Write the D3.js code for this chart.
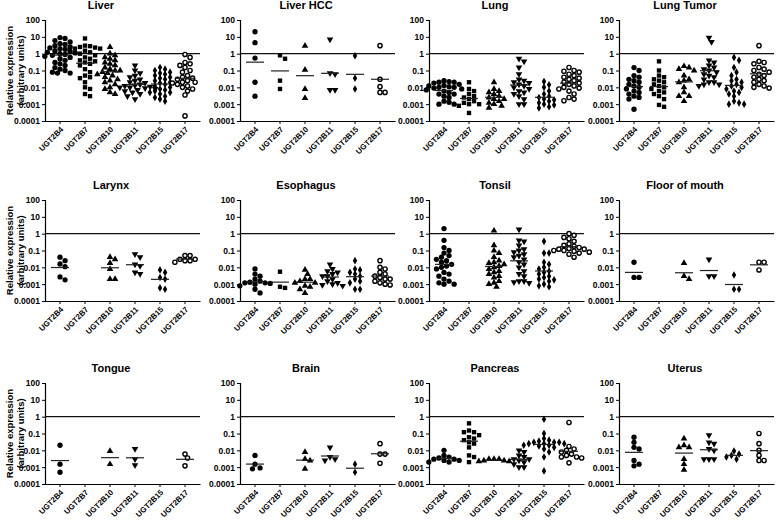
<!DOCTYPE html>
<html><head><meta charset="utf-8">
<script src="https://cdn.jsdelivr.net/npm/d3@7"></script>
<style>
body{margin:0;background:#fff}
text{font-family:"Liberation Sans",Arial,sans-serif;font-weight:bold;fill:#000}
</style>
</head><body><svg id="c" width="777" height="520"></svg>
<script>
const genes = ["UGT2B4","UGT2B7","UGT2B10","UGT2B11","UGT2B15","UGT2B17"];
const tissues = ["Liver","Liver HCC","Lung","Lung Tumor","Larynx","Esophagus","Tonsil","Floor of mouth","Tongue","Brain","Pancreas","Uterus"];
const yTicks = [100,10,1,0.1,0.01,0.001,0.0001];
const yTickLabels = ["100","10","1","0.1","0.01","0.001","0.0001"];
const yAxisTitle = ["Relative expression","(arbitrary units)"];

// values per tissue: one array per gene (UGT2B4, 2B7, 2B10, 2B11, 2B15, 2B17)
const liver = [
  [9,8,6,5,4,3.5,3,2.5,2.2,2,1.8,1.5,1.3,1.2,1.1,1,0.9,0.8,0.7,0.6,0.5,0.4,0.3,0.25,0.2,0.15,0.12,0.1,0.08,0.07,0.07],
  [8,3,2.8,2.5,2.3,2,2,1.8,1.5,1.2,1,0.8,0.6,0.5,0.4,0.35,0.3,0.25,0.2,0.12,0.08,0.05,0.04,0.035,0.02,0.01,0.008,0.004,0.003],
  [2.5,1,0.8,0.6,0.5,0.4,0.3,0.25,0.2,0.15,0.12,0.1,0.1,0.08,0.07,0.06,0.05,0.04,0.03,0.025,0.02,0.015,0.01,0.008,0.005,0.004],
  [0.2,0.1,0.07,0.05,0.04,0.03,0.025,0.02,0.018,0.015,0.013,0.012,0.011,0.01,0.01,0.009,0.008,0.007,0.006,0.005,0.004,0.003,0.002],
  [0.15,0.12,0.1,0.08,0.07,0.06,0.05,0.04,0.035,0.03,0.025,0.02,0.018,0.015,0.012,0.01,0.008,0.007,0.006,0.005,0.005,0.004,0.003,0.0025,0.002,0.0015],
  [0.9,0.6,0.3,0.25,0.2,0.15,0.1,0.08,0.05,0.04,0.035,0.03,0.025,0.02,0.02,0.018,0.015,0.012,0.01,0.008,0.006,0.0035,0.0002]
];
const liverHCC = [
  [20,4.5,0.55,0.02,0.003],
  [0.8,0.5,0.025,0.008],
  [2.9,0.11,0.008,0.0023],
  [7,0.07,0.06,0.007,0.007],
  [0.75,0.035,0.008],
  [3,0.03,0.011,0.005,0.005]
];
const lung = [
  [0.025,0.022,0.02,0.02,0.018,0.015,0.013,0.012,0.011,0.01,0.01,0.009,0.008,0.007,0.006,0.005,0.004,0.004,0.003,0.0025,0.0015,0.0013,0.001,0.001],
  [0.02,0.008,0.006,0.004,0.003,0.0025,0.002,0.0015,0.0012,0.001,0.001,0.0008,0.0003],
  [0.02,0.008,0.006,0.005,0.004,0.003,0.0025,0.002,0.002,0.0015,0.0012,0.001,0.0008,0.0006],
  [0.5,0.35,0.15,0.06,0.03,0.025,0.02,0.018,0.015,0.012,0.01,0.008,0.006,0.005,0.004,0.003,0.002,0.001,0.001],
  [0.022,0.014,0.01,0.006,0.004,0.003,0.0025,0.002,0.0018,0.0015,0.0012,0.001,0.0009,0.0007,0.0006],
  [0.15,0.1,0.09,0.08,0.06,0.05,0.04,0.035,0.03,0.025,0.02,0.018,0.015,0.012,0.01,0.009,0.008,0.006,0.004,0.0025,0.002,0.0016]
];
const lungTumor = [
  [0.15,0.1,0.05,0.04,0.03,0.025,0.02,0.015,0.012,0.01,0.008,0.006,0.005,0.004,0.003,0.0025,0.002,0.0005],
  [0.35,0.1,0.05,0.04,0.03,0.025,0.02,0.015,0.012,0.01,0.008,0.006,0.005,0.004,0.003,0.002,0.0009,0.0007],
  [0.18,0.15,0.12,0.1,0.05,0.03,0.025,0.02,0.01,0.005,0.003,0.003,0.0015],
  [9,5,0.4,0.3,0.2,0.15,0.12,0.1,0.08,0.06,0.05,0.04,0.03,0.02,0.02,0.015,0.015,0.012],
  [0.6,0.4,0.15,0.08,0.05,0.03,0.025,0.02,0.015,0.012,0.01,0.008,0.006,0.005,0.004,0.003,0.0015,0.0012,0.001,0.001],
  [3,0.35,0.3,0.25,0.15,0.12,0.1,0.08,0.06,0.05,0.04,0.03,0.025,0.02,0.015,0.012,0.01,0.009]
];
const larynx = [
  [0.04,0.025,0.016,0.011,0.0027,0.0018],
  [],
  [0.04,0.03,0.018,0.008,0.002,0.002],
  [0.06,0.04,0.015,0.012,0.005,0.004],
  [0.007,0.005,0.0025,0.002,0.0006,0.0005],
  [0.05,0.05,0.03,0.03,0.025,0.02,0.025]
];
const esophagus = [
  [0.008,0.004,0.003,0.002,0.0015,0.0013,0.0012,0.0012,0.0011,0.001,0.0008,0.0005,0.0003],
  [0.0055,0.0007,0.0006],
  [0.007,0.004,0.002,0.002,0.0015,0.0012,0.0012,0.0008,0.0007,0.0005,0.0003],
  [0.015,0.008,0.006,0.005,0.004,0.003,0.003,0.002,0.0015,0.0012,0.001,0.0009,0.0008],
  [0.025,0.008,0.007,0.005,0.004,0.003,0.002,0.0015,0.0012,0.0005,0.0005],
  [0.025,0.01,0.008,0.005,0.004,0.003,0.0025,0.002,0.002,0.0015,0.0012,0.001,0.0009]
];
const tonsil = [
  [2,0.4,0.15,0.1,0.07,0.05,0.04,0.03,0.025,0.02,0.015,0.012,0.01,0.008,0.005,0.004,0.003,0.002,0.0015,0.0012,0.001,0.001],
  [],
  [1.5,0.2,0.1,0.07,0.04,0.025,0.02,0.018,0.015,0.012,0.01,0.008,0.006,0.005,0.004,0.003,0.0025,0.0015,0.0012,0.001,0.0007],
  [1.8,0.4,0.35,0.2,0.12,0.1,0.08,0.06,0.05,0.04,0.03,0.02,0.015,0.01,0.006,0.004,0.003,0.0015,0.0015,0.0013,0.0012],
  [0.35,0.07,0.07,0.02,0.015,0.01,0.008,0.006,0.005,0.004,0.003,0.0025,0.002,0.0018,0.0015,0.001,0.0008,0.0007],
  [1,0.8,0.6,0.5,0.35,0.25,0.2,0.18,0.15,0.13,0.12,0.12,0.1,0.1,0.09,0.08,0.07,0.06,0.04]
];
const floorOfMouth = [
  [0.02,0.0025,0.0025],
  [],
  [0.018,0.002,0.003],
  [0.03,0.003,0.003],
  [0.0035,0.0005,0.0005],
  [0.02,0.02,0.007]
];
const tongue = [
  [0.02,0.0015,0.0005],
  [],
  [0.009,0.0015],
  [0.012,0.003,0.0013],
  [],
  [0.006,0.0035,0.0012]
];
const brain = [
  [0.005,0.0015,0.0008,0.0009],
  [],
  [0.008,0.003,0.0025,0.0008],
  [0.015,0.004,0.0025,0.003],
  [0.0015,0.0005],
  [0.025,0.006,0.006,0.0017]
];
const pancreas = [
  [0.01,0.005,0.004,0.0035,0.003,0.003,0.0025,0.0025,0.002,0.002],
  [0.4,0.15,0.12,0.12,0.08,0.06,0.05,0.04,0.03,0.025,0.015,0.005,0.004,0.002],
  [0.003,0.003,0.0025,0.0025,0.003,0.0022,0.0022],
  [0.01,0.008,0.005,0.004,0.003,0.003,0.0025,0.002,0.0015,0.001,0.001],
  [0.7,0.1,0.05,0.04,0.035,0.03,0.03,0.03,0.025,0.025,0.025,0.02,0.02,0.018,0.015,0.012,0.008,0.004,0.0006],
  [0.45,0.017,0.012,0.01,0.008,0.006,0.005,0.004,0.004,0.0035,0.0018]
];
const uterus = [
  [0.06,0.03,0.015,0.012,0.0025,0.0015,0.0012],
  [],
  [0.05,0.02,0.015,0.015,0.003,0.0015,0.0007],
  [0.08,0.03,0.025,0.012,0.01,0.003,0.003,0.003],
  [0.009,0.006,0.005,0.003,0.004],
  [0.1,0.025,0.01,0.005,0.0025,0.0025]
];
const panelData = [liver,liverHCC,lung,lungTumor,larynx,esophagus,tonsil,floorOfMouth,tongue,brain,pancreas,uterus];

// ---------- layout ----------
const colX = [45, 240, 429, 619];
const rowTop = [20, 200, 383];
const plotW = 155, plotH = 101;
const svg = d3.select("#c");
const FONT = "Liberation Sans, Arial, sans-serif";

const symbols = [
  {type: d3.symbolCircle, size: 22, fill: "#000", rot: 0},
  {type: d3.symbolSquare, size: 19, fill: "#000", rot: 0},
  {type: d3.symbolTriangle, size: 19, fill: "#000", rot: 0},
  {type: d3.symbolTriangle, size: 19, fill: "#000", rot: 180},
  {type: d3.symbolDiamond, size: 17, fill: "#000", rot: 0},
  {type: d3.symbolCircle, size: 14, fill: "#fff", rot: 0, stroke: true}
];

function beeswarm(vals, y, r) {
  const pts = vals.map(v => ({v, y: y(v)})).sort((a, b) => a.y - b.y);
  const placed = [];
  const step = r * 1.1;
  pts.forEach(p => {
    for (let k = 0; k < 20; k++) {
      const off = k === 0 ? 0 : (k % 2 ? 1 : -1) * Math.ceil(k / 2) * step;
      const ok = placed.every(q => (q.dx - off) ** 2 + (q.y - p.y) ** 2 >= (2 * r) ** 2);
      if (ok) { p.dx = off; break; }
    }
    if (p.dx === undefined) p.dx = 0;
    placed.push(p);
  });
  return pts;
}

tissues.forEach((name, i) => {
  const col = i % 4, row = Math.floor(i / 4);
  const x0 = colX[col], top = rowTop[row];
  const g = svg.append("g").attr("transform", `translate(${x0},${top})`);
  const y = d3.scaleLog().domain([0.0001, 100]).range([plotH, 0]);
  const x = d3.scaleBand().domain(genes).range([0, plotW]).paddingOuter(0.1).paddingInner(0);

  // title
  g.append("text").attr("x", i === 0 ? 56 : 66).attr("y", -11).attr("text-anchor", "middle")
    .style("font-size", "11px").text(name);

  // y axis
  const ya = g.append("g").call(d3.axisLeft(y).tickValues(yTicks).tickSize(3)
    .tickFormat((d, k) => yTickLabels[k]));
  ya.select(".domain").attr("stroke", "#000").attr("stroke-width", 1.2);
  ya.selectAll(".tick line").attr("stroke", "#000").attr("stroke-width", 1);
  ya.selectAll(".tick text").style("font-size", "8.5px").style("font-family", FONT)
    .style("font-weight", "bold").attr("x", -5).attr("dy", "0.35em");

  // x axis
  const xa = g.append("g").attr("transform", `translate(0,${plotH})`)
    .call(d3.axisBottom(x).tickSize(3).tickSizeOuter(0));
  xa.select(".domain").attr("stroke", "#000").attr("stroke-width", 1.2);
  xa.selectAll(".tick line").attr("stroke", "#000");
  xa.selectAll(".tick text").style("font-size", "7.8px").style("font-family", FONT)
    .style("font-weight", "bold")
    .attr("text-anchor", "end").attr("dy", "0.35em").attr("y", 0).attr("x", 0)
    .attr("transform", "translate(2,7) rotate(-45)");

  // reference line at 1
  g.append("line").attr("x1", 0).attr("x2", plotW).attr("y1", y(1)).attr("y2", y(1))
    .attr("stroke", "#111").attr("stroke-width", 1.3);

  const data = panelData[i];
  genes.forEach((gene, j) => {
    const vals = data[j];
    if (!vals.length) return;
    const cx = x(gene) + x.bandwidth() / 2;
    const s = symbols[j];
    const sym = d3.symbol().type(s.type).size(s.size);
    const pts = beeswarm(vals, y, 2.3);
    g.selectAll(null).data(pts).join("path")
      .attr("d", sym)
      .attr("transform", p => `translate(${cx + p.dx},${p.y}) rotate(${s.rot})`)
      .attr("fill", s.fill)
      .attr("stroke", s.stroke ? "#000" : "none")
      .attr("stroke-width", s.stroke ? 1.4 : 0);
    const gm = Math.pow(10, d3.mean(vals, v => Math.log10(v)));
    g.append("line").attr("x1", cx - 9).attr("x2", cx + 9)
      .attr("y1", y(gm)).attr("y2", y(gm))
      .attr("stroke", "#222").attr("stroke-width", 1.2);
  });

  if (col === 0) {
    g.append("text").attr("transform", `translate(${13 - x0},${plotH / 2}) rotate(-90)`)
      .attr("text-anchor", "middle").style("font-size", "9.5px").text(yAxisTitle[0]);
    g.append("text").attr("transform", `translate(${24 - x0},${plotH / 2}) rotate(-90)`)
      .attr("text-anchor", "middle").style("font-size", "9.5px").text(yAxisTitle[1]);
  }
});
</script>
</body></html>
